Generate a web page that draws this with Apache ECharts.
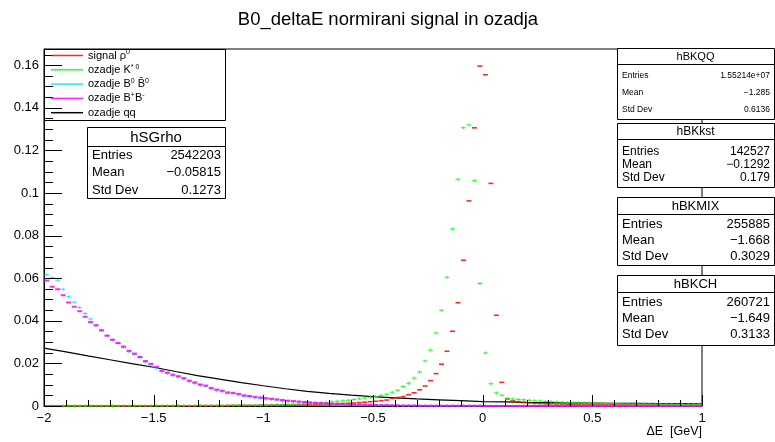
<!DOCTYPE html>
<html><head><meta charset="utf-8">
<script src="https://cdn.jsdelivr.net/npm/echarts@6/dist/echarts.min.js"></script>
<style>html,body{margin:0;padding:0;background:#fff}#c{width:775px;height:442px}</style>
</head><body><div id="c"></div>
<script>
// Histogram binning (bin centres derived from these)
const binLow = -2, binWidth = 0.025;

// signal rho0 (red)
const signalRho = [
0.0000,0.0000,0.0000,0.0000,0.0000,0.0000,0.0000,0.0000,0.0000,0.0000,
0.0000,0.0000,0.0000,0.0000,0.0000,0.0000,0.0001,0.0001,0.0001,0.0001,
0.0001,0.0001,0.0001,0.0001,0.0001,0.0001,0.0001,0.0001,0.0002,0.0002,
0.0002,0.0002,0.0002,0.0002,0.0003,0.0003,0.0003,0.0003,0.0003,0.0004,
0.0004,0.0004,0.0005,0.0005,0.0005,0.0006,0.0006,0.0007,0.0007,0.0008,
0.0008,0.0009,0.0010,0.0011,0.0012,0.0013,0.0014,0.0016,0.0018,0.0020,
0.0022,0.0025,0.0028,0.0036,0.0040,0.0044,0.0053,0.0062,0.0076,0.0094,
0.0119,0.0152,0.0196,0.0257,0.0351,0.0485,0.0684,0.0963,0.1306,0.1596,
0.1555,0.1045,0.0426,0.0111,0.0033,0.0024,0.0019,0.0016,0.0014,0.0012,
0.0011,0.0010,0.0010,0.0009,0.0009,0.0008,0.0008,0.0008,0.0007,0.0007,
0.0007,0.0007,0.0006,0.0006,0.0006,0.0006,0.0006,0.0005,0.0005,0.0005,
0.0005,0.0005,0.0005,0.0004,0.0004,0.0004,0.0004,0.0004,0.0004,0.0004];

// background K*0 (green)
const bkgKst = [
0.0000,0.0000,0.0000,0.0000,0.0000,0.0000,0.0000,0.0000,0.0000,0.0000,
0.0000,0.0000,0.0000,0.0000,0.0001,0.0001,0.0001,0.0001,0.0001,0.0001,
0.0001,0.0001,0.0001,0.0001,0.0001,0.0002,0.0002,0.0002,0.0002,0.0002,
0.0002,0.0002,0.0002,0.0003,0.0003,0.0003,0.0003,0.0003,0.0004,0.0004,
0.0004,0.0005,0.0005,0.0006,0.0007,0.0008,0.0009,0.0010,0.0012,0.0013,
0.0015,0.0017,0.0020,0.0022,0.0025,0.0027,0.0030,0.0034,0.0038,0.0041,
0.0045,0.0050,0.0055,0.0064,0.0074,0.0091,0.0107,0.0131,0.0160,0.0211,
0.0263,0.0343,0.0449,0.0604,0.0831,0.1065,0.1306,0.1319,0.1057,0.0575,
0.0249,0.0105,0.0061,0.0050,0.0036,0.0033,0.0031,0.0029,0.0027,0.0025,
0.0023,0.0022,0.0020,0.0019,0.0018,0.0017,0.0016,0.0015,0.0014,0.0014,
0.0013,0.0013,0.0012,0.0012,0.0012,0.0011,0.0011,0.0011,0.0010,0.0010,
0.0010,0.0009,0.0009,0.0009,0.0009,0.0008,0.0008,0.0008,0.0008,0.0008];

// background B0 B0bar (cyan)
const bkgMix = [
0.0616,0.0602,0.0590,0.0548,0.0513,0.0487,0.0463,0.0434,0.0408,0.0382,
0.0357,0.0331,0.0310,0.0294,0.0276,0.0255,0.0242,0.0226,0.0207,0.0194,
0.0178,0.0161,0.0152,0.0142,0.0135,0.0126,0.0114,0.0106,0.0096,0.0091,
0.0080,0.0072,0.0067,0.0059,0.0057,0.0052,0.0045,0.0042,0.0038,0.0035,
0.0032,0.0030,0.0027,0.0024,0.0022,0.0020,0.0018,0.0016,0.0015,0.0013,
0.0012,0.0011,0.0010,0.0009,0.0008,0.0007,0.0006,0.0006,0.0005,0.0005,
0.0004,0.0004,0.0003,0.0003,0.0002,0.0002,0.0002,0.0002,0.0002,0.0002,
0.0001,0.0001,0.0001,0.0001,0.0001,0.0001,0.0001,0.0001,0.0001,0.0001,
0.0000,0.0000,0.0000,0.0000,0.0000,0.0000,0.0000,0.0000,0.0000,0.0000,
0.0000,0.0000,0.0000,0.0000,0.0000,0.0000,0.0000,0.0000,0.0000,0.0000,
0.0000,0.0000,0.0000,0.0000,0.0000,0.0000,0.0000,0.0000,0.0000,0.0000,
0.0000,0.0000,0.0000,0.0000,0.0000,0.0000,0.0000,0.0000,0.0000,0.0000];

// background B+B- (magenta)
const bkgCharged = [
0.0589,0.0560,0.0548,0.0520,0.0486,0.0466,0.0445,0.0419,0.0394,0.0378,
0.0355,0.0330,0.0311,0.0296,0.0279,0.0259,0.0246,0.0230,0.0211,0.0198,
0.0183,0.0166,0.0157,0.0147,0.0140,0.0131,0.0119,0.0111,0.0101,0.0096,
0.0085,0.0077,0.0072,0.0064,0.0062,0.0057,0.0050,0.0047,0.0043,0.0040,
0.0037,0.0034,0.0031,0.0028,0.0025,0.0023,0.0021,0.0019,0.0017,0.0015,
0.0014,0.0012,0.0011,0.0010,0.0009,0.0008,0.0007,0.0007,0.0006,0.0005,
0.0005,0.0004,0.0004,0.0003,0.0003,0.0002,0.0002,0.0002,0.0001,0.0001,
0.0001,0.0001,0.0001,0.0001,0.0001,0.0001,0.0001,0.0001,0.0001,0.0001,
0.0000,0.0000,0.0000,0.0000,0.0000,0.0000,0.0000,0.0000,0.0000,0.0000,
0.0000,0.0000,0.0000,0.0000,0.0000,0.0000,0.0000,0.0000,0.0000,0.0000,
0.0000,0.0000,0.0000,0.0000,0.0000,0.0000,0.0000,0.0000,0.0000,0.0000,
0.0000,0.0000,0.0000,0.0000,0.0000,0.0000,0.0000,0.0000,0.0000,0.0000];

// background qq (black line)
const qqX = [-2.0,-1.9,-1.8,-1.7,-1.6,-1.5,-1.4,-1.3,-1.2,-1.1,-1.0,-0.9,-0.8,-0.7,-0.6,-0.5,-0.4,-0.3,-0.2,-0.1,0.0,0.1,0.2,0.3,0.4,0.5,0.6,0.7,0.8,0.9,1.0];
const qqY = [0.0272,0.0254,0.0235,0.0217,0.0199,0.0182,0.0162,0.0143,0.0126,0.0110,0.0095,0.0081,0.0069,0.0059,0.0051,0.0044,0.0038,0.0033,0.0029,0.0025,0.0021,0.0019,0.0017,0.0016,0.0015,0.0014,0.0013,0.0012,0.0011,0.0011,0.0010];

// axis tick positions
const xMajorTicks = [-2,-1.5,-1,-0.5,0,0.5,1];
const xMinorTicks = [-1.9,-1.8,-1.7,-1.6,-1.4,-1.3,-1.2,-1.1,-0.9,-0.8,-0.7,-0.6,-0.4,-0.3,-0.2,-0.1,0.1,0.2,0.3,0.4,0.6,0.7,0.8,0.9];
const yMajorTicks = [0,0.02,0.04,0.06,0.08,0.1,0.12,0.14,0.16];
const yMinorTicks = [0.005,0.01,0.015,0.025,0.03,0.035,0.045,0.05,0.055,0.065,0.07,0.075,0.085,0.09,0.095,0.105,0.11,0.115,0.125,0.13,0.135,0.145,0.15,0.155,0.165];

const seriesNames = ['signal ρ0','ozadje K*0','ozadje B0 B0bar','ozadje B+B-','ozadje qq'];
const legendRich = {
  'signal ρ0': 'signal ρ{s|0}',
  'ozadje K*0': 'ozadje K{s|* 0}',
  'ozadje B0 B0bar': 'ozadje B{s|0} B\u0304{s|0}',
  'ozadje B+B-': 'ozadje B{s|+}B{s|-}',
  'ozadje qq': 'ozadje qq'
};

const statBoxes = [
  {name:'hSGrho', rows:[['Entries','2542203'],['Mean','\u22120.05815'],['Std Dev','0.1273']]},
  {name:'hBKQQ', rows:[['Entries','1.55214e+07'],['Mean','\u22121.285'],['Std Dev','0.6136']]},
  {name:'hBKkst', rows:[['Entries','142527'],['Mean','\u22120.1292'],['Std Dev','0.179']]},
  {name:'hBKMIX', rows:[['Entries','255885'],['Mean','\u22121.668'],['Std Dev','0.3029']]},
  {name:'hBKCH', rows:[['Entries','260721'],['Mean','\u22121.649'],['Std Dev','0.3133']]}
];

const FONT = 'Liberation Sans, Arial, Helvetica, sans-serif';
function pts(arr){ return arr.map((v,i)=>[binLow+(i+0.5)*binWidth, v]); }
function fmtNum(v){ return String(+v.toFixed(4)).replace('-', '\u2212'); }

// stat box layouts (pixel geometry)
const boxGeom = [
  {x:87, y:127, w:138, h:71, th:19, tf:15, rf:13, rowY:[155,172.5,190]},
  {x:617, y:48, w:157, h:71, th:16, tf:11, rf:8.5, rowY:[76,93,110]},
  {x:617, y:123, w:157, h:64, th:16, tf:12, rf:12, rowY:[152,164.5,177.5]},
  {x:617, y:197, w:157, h:68, th:17, tf:13, rf:13, rowY:[224.5,240.5,256.5]},
  {x:617, y:275, w:157, h:70, th:17, tf:13, rf:13, rowY:[302.5,318.5,334.5]}
];

const graphics = [];
graphics.push({type:'rect', shape:{x:44.5,y:49.5,width:181,height:71}, style:{fill:'none',stroke:'#000',lineWidth:1}, z:5});
statBoxes.forEach((b,k)=>{
  const g = boxGeom[k];
  graphics.push({type:'rect', shape:{x:g.x+0.5,y:g.y+0.5,width:g.w,height:g.h}, style:{fill:'#fff',stroke:'#000',lineWidth:1}, z:20});
  graphics.push({type:'line', shape:{x1:g.x,y1:g.y+g.th+0.5,x2:g.x+g.w,y2:g.y+g.th+0.5}, style:{stroke:'#000',lineWidth:1}, z:21});
  graphics.push({type:'text', z:22, style:{text:b.name, x:g.x+g.w/2, y:g.y+g.th/2+1, font:g.tf+'px '+FONT, fill:'#000', align:'center', verticalAlign:'middle', textAlign:'center', textVerticalAlign:'middle'}});
  b.rows.forEach((r,j)=>{
    graphics.push({type:'text', z:22, style:{text:r[0], x:g.x+5, y:g.rowY[j], font:g.rf+'px '+FONT, fill:'#000', align:'left', verticalAlign:'middle', textAlign:'left', textVerticalAlign:'middle'}});
    graphics.push({type:'text', z:22, style:{text:r[1], x:g.x+g.w-4, y:g.rowY[j], font:g.rf+'px '+FONT, fill:'#000', align:'right', verticalAlign:'middle', textAlign:'right', textVerticalAlign:'middle'}});
  });
});
graphics.push({type:'text', z:22, style:{text:'B0_deltaE normirani signal in ozadja', x:388, y:20, font:'18.5px '+FONT, fill:'#000', align:'center', verticalAlign:'middle', textAlign:'center', textVerticalAlign:'middle'}});
graphics.push({type:'text', z:22, style:{text:'\u0394E  [GeV]', x:702, y:432, font:'12.5px '+FONT, fill:'#000', align:'right', verticalAlign:'middle', textAlign:'right', textVerticalAlign:'middle'}});

// tick marks drawn through the cartesian coordinate system
const xTickData = xMajorTicks.map(v=>[v,0,11]).concat(xMinorTicks.map(v=>[v,0,6]));
const yTickData = yMajorTicks.map(v=>[-2,v,18]).concat(yMinorTicks.map(v=>[-2,v,9]));
function tickX(params, api){
  const p = api.coord([api.value(0), api.value(1)]);
  const x = Math.round(p[0]) + 0.5, y = Math.round(p[1]);
  return {type:'line', shape:{x1:x, y1:y, x2:x, y2:y - api.value(2)}, style:{stroke:'#000', lineWidth:1}};
}
function tickY(params, api){
  const p = api.coord([api.value(0), api.value(1)]);
  const x = Math.round(p[0]), y = Math.round(p[1]) + 0.5;
  return {type:'line', shape:{x1:x, y1:y, x2:x + api.value(2), y2:y}, style:{stroke:'#000', lineWidth:1}};
}

const chart = echarts.init(document.getElementById('c'));
const plus = 'path://M0,1H2V0H3V1H5V2H3V3H2V2H0Z';
chart.setOption({
  animation:false,
  backgroundColor:'#fff',
  grid:{left:44, right:73, top:49, bottom:36, show:true, borderColor:'#000', borderWidth:1},
  legend:{
    orient:'vertical', left:51, top:49, itemGap:1.3, padding:0, z:30,
    itemWidth:32, itemHeight:1.5, icon:'rect',
    data:seriesNames,
    formatter:(n)=>legendRich[n],
    textStyle:{fontSize:11, color:'#000', lineHeight:13, fontFamily:FONT, rich:{s:{fontSize:7, padding:[0,0,6,0], fontFamily:FONT}}}
  },
  xAxis:{type:'value', min:-2, max:1, interval:0.5,
    axisLine:{show:true, onZero:false, lineStyle:{color:'#000', width:1}},
    axisTick:{show:false}, minorTick:{show:false},
    splitLine:{show:false},
    axisLabel:{color:'#000', fontSize:13, margin:6, fontFamily:FONT, formatter:(v)=>fmtNum(v)}
  },
  yAxis:{type:'value', min:0, max:0.1676, interval:0.02,
    axisLine:{show:true, onZero:false, lineStyle:{color:'#000', width:1}},
    axisTick:{show:false}, minorTick:{show:false},
    splitLine:{show:false},
    axisLabel:{color:'#000', fontSize:13, margin:5, showMaxLabel:false, fontFamily:FONT, formatter:(v)=>fmtNum(v)}
  },
  graphic:graphics,
  series:[
    {name:'ozadje qq', type:'line', data:qqX.map((x,i)=>[x,qqY[i]]), showSymbol:false, symbol:'none',
      lineStyle:{color:'#000', width:1.2}, itemStyle:{color:'#000'}, z:3},
    {name:'signal ρ0', type:'scatter', data:pts(signalRho), symbol:'rect', symbolSize:[5,1.6],
      itemStyle:{color:'#ff0000', opacity:0.85}, z:4},
    {name:'ozadje K*0', type:'scatter', data:pts(bkgKst), symbol:plus, symbolSize:[5,3],
      itemStyle:{color:'#00ff00', opacity:0.85}, z:4},
    {name:'ozadje B0 B0bar', type:'scatter', data:pts(bkgMix), symbol:plus, symbolSize:[5,3],
      itemStyle:{color:'#00e5e5', opacity:0.85}, z:4},
    {name:'ozadje B+B-', type:'scatter', data:pts(bkgCharged), symbol:'rect', symbolSize:[5,2],
      itemStyle:{color:'#ff00ff', opacity:0.85}, z:4},
    {name:'xticks', type:'custom', data:xTickData, renderItem:tickX, clip:false, silent:true, z:6},
    {name:'yticks', type:'custom', data:yTickData, renderItem:tickY, clip:false, silent:true, z:6}
  ]
});
</script>
</body></html>
